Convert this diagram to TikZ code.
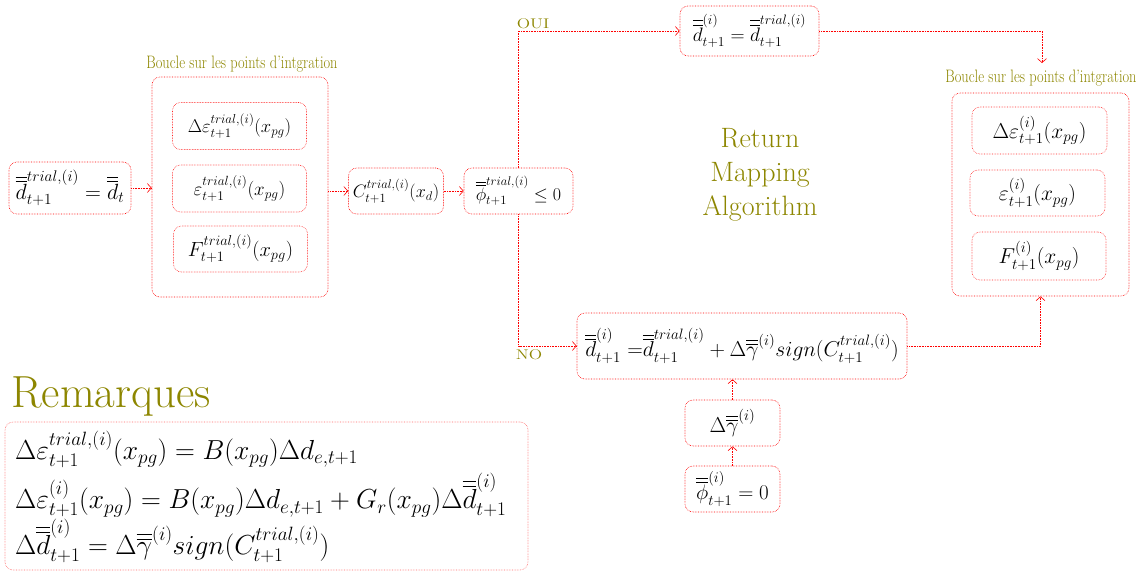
\RequirePackage{fix-cm}
\documentclass[tikz,border=0pt]{standalone}
\usepackage{amsmath}
\usetikzlibrary{arrows.meta}
\newcommand{\dd}{\overline{\overline{d}}}
\newcommand{\pphi}{\overline{\overline{\phi}}}
\newcommand{\ggam}{\overline{\overline{\gamma}}}
\newcommand{\fs}[1]{\fontsize{#1}{1.2\dimexpr #1pt\relax}\selectfont}
\tikzset{
  box/.style={draw=red, densely dotted, line width=0.6pt, rounded corners=8pt, inner sep=0pt, font=\fs{18}},
  ibox/.style={box, draw=red!85},
  conn/.style={draw=red, densely dotted, line width=0.6pt, -{Straight Barb[length=4pt,width=9pt,line width=0.6pt]}},
  olivetext/.style={text=olive, inner sep=0pt},
  title/.style={olivetext, font=\fs{18}, xscale=0.80},
  smalllab/.style={olivetext, font=\fs{14}, xscale=1.25},
}
\begin{document}
\begin{tikzpicture}[x=1pt,y=-1pt]
\useasboundingbox (0,0) rectangle (1143,571);
% left part
\node[box, minimum width=122pt, minimum height=52pt, font=\fs{22}] (A) at (70,188) {$\dd^{trial,(i)}_{t+1}=\dd_t$};
\node[box, minimum width=176pt, minimum height=220pt] (L1) at (240,187) {};
\node[title] (T1) at (242,64) {Boucle sur les points d'intgration};
\node[ibox, minimum width=134pt, minimum height=47pt, font=\fs{18.5}] (a1) at (239.5,126) {$\Delta\varepsilon^{trial,(i)}_{t+1}(x_{pg})$};
\node[ibox, minimum width=134pt, minimum height=47pt, font=\fs{19}] (a2) at (239.5,188.5) {$\varepsilon^{trial,(i)}_{t+1}(x_{pg})$};
\node[ibox, minimum width=134pt, minimum height=46pt, font=\fs{20.5}] (a3) at (240.5,249) {$F^{trial,(i)}_{t+1}(x_{pg})$};
\node[box, minimum width=95pt, minimum height=46pt] (C) at (396,191) {$C^{trial,(i)}_{t+1}(x_d)$};
\node[box, minimum width=109pt, minimum height=46pt] (P) at (518.5,191) {$\pphi^{trial,(i)}_{t+1}\le 0$};
% top branch
\node[box, minimum width=139pt, minimum height=50pt, font=\fs{19.5}] (D) at (749.5,31) {$\dd^{(i)}_{t+1}=\dd^{trial,(i)}_{t+1}$};
\node[smalllab] (oui) at (533,24) {OUI};
% right loop
\node[title] (T2) at (1041,78) {Boucle sur les points d'intgration};
\coordinate (t2) at (1042,63);
\node[box, minimum width=177pt, minimum height=203pt] (L2) at (1040.5,194.5) {};
\node[ibox, minimum width=135pt, minimum height=47pt, font=\fs{21.5}] (b1) at (1039.5,130.5) {$\Delta\varepsilon^{(i)}_{t+1}(x_{pg})$};
\node[ibox, minimum width=135pt, minimum height=46pt, font=\fs{21.5}] (b2) at (1037.5,193) {$\varepsilon^{(i)}_{t+1}(x_{pg})$};
\node[ibox, minimum width=134pt, minimum height=48pt, font=\fs{21.5}] (b3) at (1039,256) {$F^{(i)}_{t+1}(x_{pg})$};
\node[olivetext, font=\fontsize{28}{34}\selectfont, align=center] (rma) at (760,175) {Return\\Mapping\\Algorithm};
% bottom branch
\node[box, minimum width=330pt, minimum height=66pt, font=\fs{21.5}] (E) at (742,346) {$\dd^{(i)}_{t+1}\ {=}\dd^{trial,(i)}_{t+1}+\Delta\ggam^{(i)}sign(C^{trial,(i)}_{t+1})$};
\node[smalllab] (no) at (529,355) {NO};
\node[box, minimum width=95pt, minimum height=46pt, font=\fs{21.5}] (G) at (732.5,423) {$\Delta\ggam^{(i)}$};
\node[box, minimum width=95pt, minimum height=46pt, font=\fs{21}] (F) at (732.5,489) {$\pphi^{(i)}_{t+1}=0$};
% remarks
\node[olivetext, font=\fs{45}, anchor=west] (rem) at (11,397) {Remarques};
\node[box, draw=red!60, minimum width=523pt, minimum height=148pt] (R) at (266.5,496) {};
\node[anchor=west, inner sep=0pt, font=\fs{27.5}] (r1) at (15,449) {$\Delta\varepsilon^{trial,(i)}_{t+1}(x_{pg})=B(x_{pg})\Delta d_{e,t+1}$};
\node[anchor=west, inner sep=0pt, font=\fs{27.5}] (r2) at (15,495) {$\Delta\varepsilon^{(i)}_{t+1}(x_{pg})=B(x_{pg})\Delta d_{e,t+1}+G_r(x_{pg})\Delta\dd^{(i)}_{t+1}$};
\node[anchor=west, inner sep=0pt, font=\fs{27.5}] (r3) at (15,541) {$\Delta\dd^{(i)}_{t+1}=\Delta\ggam^{(i)}sign(C^{trial,(i)}_{t+1})$};
% connectors
\draw[conn] (A.east) -- (A.east -| L1.west);
\draw[conn] (L1.east |- C.west) -- (C.west);
\draw[conn] (C.east) -- (P.west);
\draw[conn] (P.north) |- (D.west);
\draw[conn] (D.east) -| (t2);
\draw[conn] (P.south) |- (E.west);
\draw[conn] (E.east) -| (L2.south);
\draw[conn] (G.north) -- (G.north |- E.south);
\draw[conn] (F.north) -- (G.south);
\end{tikzpicture}
\end{document}
